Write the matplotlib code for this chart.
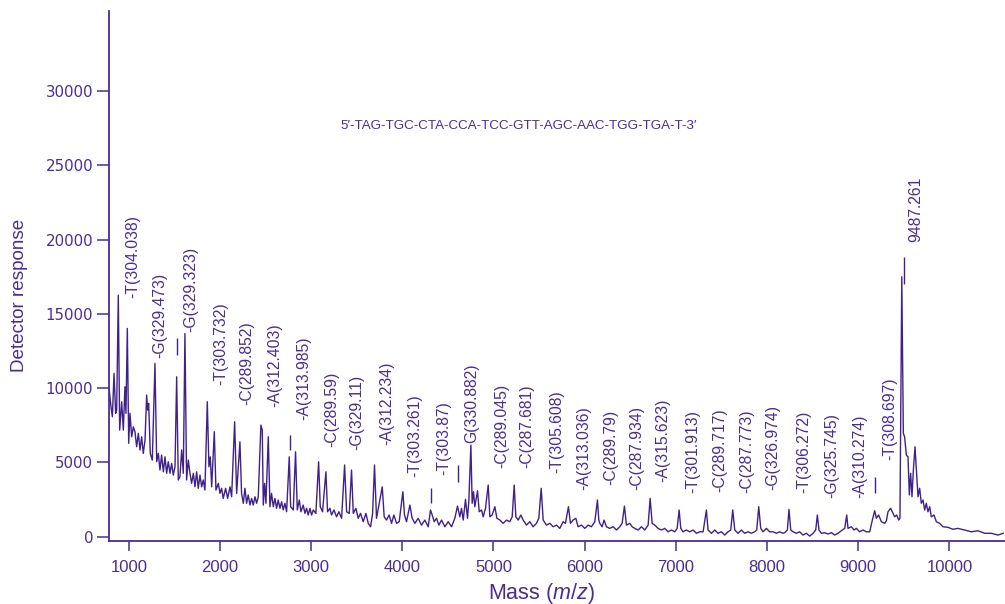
import matplotlib
matplotlib.use("Agg")
import matplotlib.pyplot as plt

# ---- colours / fonts
PURPLE = "#4b2d8f"
LINE = "#3f2189"
plt.rcParams["mathtext.fontset"] = "custom"
plt.rcParams["mathtext.rm"] = "Liberation Sans"
plt.rcParams["mathtext.it"] = "Liberation Sans:italic"

# -----------------------------------------------------
# ---- SPECTRUM
mass = [785, 805, 820, 838, 856, 867, 885, 900, 922, 940,
        958, 969, 984, 999, 1013, 1032, 1050, 1068, 1086, 1105,
        1123, 1141, 1159, 1178, 1196, 1207, 1218, 1236, 1258, 1287,
        1306, 1324, 1342, 1360, 1379, 1397, 1415, 1433, 1452, 1470,
        1488, 1507, 1525, 1543, 1561, 1580, 1598, 1616, 1634, 1653,
        1671, 1689, 1708, 1726, 1744, 1762, 1781, 1799, 1817, 1835,
        1861, 1879, 1894, 1909, 1938, 1956, 1982, 2000, 2018, 2036,
        2062, 2084, 2110, 2128, 2161, 2183, 2219, 2237, 2256, 2274,
        2292, 2310, 2329, 2347, 2365, 2384, 2402, 2420, 2449, 2464,
        2475, 2490, 2504, 2530, 2548, 2566, 2585, 2603, 2621, 2639,
        2658, 2676, 2694, 2712, 2731, 2760, 2775, 2804, 2829, 2848,
        2870, 2888, 2913, 2932, 2950, 2968, 2987, 3005, 3023, 3052,
        3082, 3100, 3125, 3162, 3180, 3206, 3224, 3250, 3279, 3304,
        3334, 3367, 3389, 3418, 3443, 3462, 3491, 3516, 3542, 3571,
        3601, 3626, 3652, 3674, 3695, 3717, 3754, 3780, 3801, 3827,
        3856, 3882, 3907, 3937, 3966, 4006, 4024, 4046, 4083, 4108,
        4138, 4174, 4211, 4247, 4284, 4309, 4328, 4350, 4375, 4401,
        4430, 4467, 4503, 4540, 4576, 4605, 4631, 4649, 4668, 4693,
        4715, 4730, 4752, 4766, 4781, 4795, 4825, 4843, 4869, 4887,
        4912, 4942, 4960, 4985, 5015, 5037, 5070, 5106, 5143, 5179,
        5205, 5227, 5245, 5271, 5300, 5325, 5362, 5398, 5435, 5471,
        5497, 5523, 5545, 5581, 5618, 5654, 5691, 5727, 5764, 5789,
        5822, 5844, 5873, 5903, 5928, 5965, 6001, 6038, 6074, 6111,
        6140, 6155, 6166, 6191, 6213, 6239, 6275, 6312, 6349, 6385,
        6411, 6436, 6458, 6495, 6520, 6550, 6586, 6623, 6659, 6696,
        6718, 6740, 6769, 6805, 6842, 6878, 6915, 6951, 6988, 7014,
        7036, 7054, 7079, 7116, 7152, 7189, 7226, 7262, 7299, 7335,
        7353, 7390, 7427, 7463, 7500, 7536, 7573, 7602, 7624, 7646,
        7682, 7719, 7755, 7792, 7829, 7865, 7887, 7909, 7931, 7956,
        7993, 8029, 8066, 8103, 8139, 8176, 8194, 8223, 8241, 8260,
        8285, 8322, 8358, 8395, 8431, 8468, 8505, 8534, 8552, 8570,
        8596, 8632, 8669, 8706, 8742, 8779, 8815, 8852, 8874, 8888,
        8925, 8954, 8980, 9016, 9053, 9089, 9126, 9151, 9181, 9199,
        9224, 9254, 9290, 9309, 9327, 9356, 9374, 9400, 9422, 9444,
        9458, 9478, 9495, 9509, 9528, 9546, 9561, 9575, 9590, 9605,
        9623, 9641, 9656, 9674, 9692, 9711, 9729, 9747, 9765, 9784,
        9802, 9831, 9857, 9893, 9930, 9985, 10039, 10094, 10167, 10240,
        10313, 10387, 10460, 10533, 10590]

response = [9900, 8740, 8070, 10990, 8300, 8520, 16260, 7170, 9080, 7170,
            10090, 8300, 14020, 6280, 8300, 6720, 7390, 7060, 6050, 6950,
            5830, 6720, 5600, 6500, 9530, 8520, 8970, 5600, 5150, 11660,
            5040, 5600, 4480, 5490, 4360, 5370, 4260, 5040, 4260, 4930,
            4140, 4700, 10760, 3810, 4030, 5830, 4260, 13680, 3810, 5150,
            4260, 3580, 4260, 3350, 4360, 3250, 4140, 3350, 3810, 3130,
            9080, 4700, 5370, 3350, 7060, 3130, 3580, 2910, 3250, 2570,
            3250, 2570, 3350, 2680, 7730, 2910, 6380, 2910, 2240, 3250,
            2240, 2800, 2120, 2570, 2120, 2680, 2240, 2680, 7510, 7170,
            2120, 3580, 2240, 6720, 2010, 2910, 2010, 2570, 1900, 2460,
            1900, 2340, 1790, 2240, 1670, 5370, 2010, 1790, 5710, 1790,
            2460, 1670, 2120, 1560, 1900, 1450, 1900, 1450, 1790, 1560,
            5040, 2010, 1670, 4360, 1670, 1900, 1450, 1790, 1330, 1670,
            1230, 4820, 1670, 1560, 4480, 1560, 1900, 1230, 1560, 1000,
            1560, 890, 660, 1560, 4820, 1230, 2460, 3350, 1330, 1110,
            1450, 890, 1450, 890, 1000, 3020, 1450, 1000, 2120, 1230,
            890, 1230, 770, 1110, 660, 1790, 1450, 1000, 1230, 770,
            1110, 660, 1000, 660, 1230, 2050, 1330, 1900, 1110, 2510,
            1230, 2460, 6160, 2240, 3020, 2010, 3080, 1670, 1790, 1330,
            1900, 3470, 1330, 1450, 2010, 1230, 1110, 890, 1110, 1000,
            1330, 3470, 1330, 1110, 1450, 1110, 770, 1000, 660, 890,
            1230, 3250, 1110, 770, 890, 660, 770, 550, 1000, 890,
            2010, 890, 1110, 1230, 660, 770, 550, 770, 660, 1000,
            2460, 1110, 890, 660, 1110, 660, 550, 660, 440, 660,
            890, 2050, 770, 890, 660, 550, 440, 660, 440, 770,
            2570, 890, 770, 550, 440, 550, 320, 440, 320, 550,
            1790, 550, 320, 440, 320, 440, 220, 320, 320, 1790,
            440, 220, 440, 220, 320, 100, 320, 440, 1790, 440,
            220, 440, 220, 320, 220, 320, 440, 2010, 550, 320,
            550, 320, 320, 220, 320, 220, 260, 440, 1830, 440,
            320, 220, 320, 100, 220, 30, 220, 440, 1450, 440,
            220, 260, 170, 260, 100, 220, 390, 550, 1450, 550,
            660, 440, 550, 320, 440, 320, 320, 1000, 1740, 1230,
            1450, 1000, 890, 1060, 1670, 1900, 1670, 1330, 1450, 1110,
            1230, 17500, 6950, 6720, 5490, 5370, 2800, 4260, 2680, 4480,
            6050, 4260, 2680, 3250, 2240, 2460, 1790, 2240, 1670, 2010,
            1330, 1450, 1000, 890, 660, 620, 490, 550, 440, 320,
            390, 220, 220, 100, 220]

# ---- peak labels (mass position, bottom of text)
peak_labels = ["-T(304.038)", "-G(329.473)", "-G(329.323)", "-T(303.732)",
               "-C(289.852)", "-A(312.403)", "-A(313.985)", "-C(289.59)",
               "-G(329.11)", "-A(312.234)", "-T(303.261)", "-T(303.87)",
               "G(330.882)", "-C(289.045)", "-C(287.681)", "-T(305.608)",
               "-A(313.036)", "-C(289.79)", "-C(287.934)", "-A(315.623)",
               "-T(301.913)", "-C(289.717)", "-C(287.773)", "-G(326.974)",
               "-T(306.272)", "-G(325.745)", "-A(310.274)", "-T(308.697)",
               "9487.261"]
label_mass = [1038, 1342, 1679, 2007, 2293, 2603, 2921, 3224, 3505, 3827,
              4138, 4452, 4766, 5088, 5369, 5691, 5990, 6286, 6568, 6860,
              7189, 7481, 7783, 8066, 8402, 8706, 9016, 9345, 9631]
label_resp = [16040, 12000, 13790, 10200, 8855, 8740, 7845, 6047, 5825, 6162,
              4027, 4141, 6276, 4593, 4593, 4256, 3131, 3468, 3131, 3690,
              2909, 3017, 2963, 3131, 2909, 2572, 2572, 5152, 19850]

# ---- small marker ticks above some peaks
tick_mass = [1525, 2767, 4310, 4606, 9181, 9502]
tick_lo = [12220, 5830, 2240, 3690, 2910, 17000]
tick_hi = [13370, 6840, 3250, 4820, 3990, 18850]

sequence = "5\u2032-TAG-TGC-CTA-CCA-TCC-GTT-AGC-AAC-TGG-TGA-T-3\u2032"

# -----------------------------------------------------
# ---- PLOT
fig = plt.figure(figsize=(10.05, 6.04), dpi=100)
ax = fig.add_axes([109 / 1005, 1 - 541 / 604, 1 - 109 / 1005, 530 / 604])

ax.plot(mass, response, color=LINE, lw=1.0)
ax.vlines(tick_mass, tick_lo, tick_hi, color=LINE, lw=1.0)

for txt, xm, yr in zip(peak_labels, label_mass, label_resp):
    ax.text(xm, yr, txt, rotation=90, ha="center", va="bottom",
            fontsize=11.3, color=PURPLE, family="Liberation Sans")

ax.text(5278, 27640, sequence, ha="center", va="center", fontsize=9.6,
        color=PURPLE, family=["Liberation Sans", "DejaVu Sans"])

ax.set_xlim(783, 10610)
ax.set_ylim(-300, 35400)
ax.set_xticks(range(1000, 10001, 1000))
ax.set_yticks(range(0, 30001, 5000))

for s in ["top", "right"]:
    ax.spines[s].set_visible(False)
for s in ["left", "bottom"]:
    ax.spines[s].set_color(PURPLE)
    ax.spines[s].set_linewidth(1.3)

ax.tick_params(axis="x", length=7, width=1.1, color=PURPLE, pad=7,
               labelcolor=PURPLE)
ax.tick_params(axis="y", length=8.5, width=1.1, color=PURPLE, pad=3,
               labelcolor=PURPLE)
for lb in ax.get_xticklabels():
    lb.set_family("Liberation Sans")
    lb.set_fontsize(12)
for lb in ax.get_yticklabels():
    lb.set_family("DejaVu Sans")
    lb.set_fontsize(10.8)

ax.set_xlabel("Mass ($\\mathit{m/z}$)", fontsize=15.5, color=PURPLE,
              family="Liberation Sans")
ax.xaxis.set_label_coords(0.483, -0.075)
ax.set_ylabel("Detector response", fontsize=13.6, color=PURPLE,
              family="Liberation Sans")
ax.yaxis.set_label_coords(-0.09, 0.464)

fig.savefig("out.png", dpi=100)
